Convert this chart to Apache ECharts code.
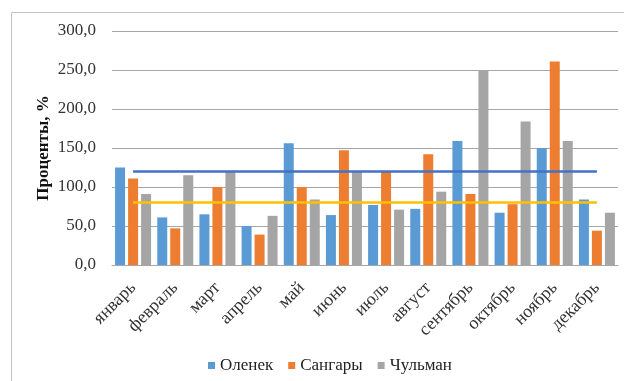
<!DOCTYPE html>
<html>
<head>
<meta charset="utf-8">
<script src="https://cdn.jsdelivr.net/npm/echarts@6/dist/echarts.min.js"></script>
<style>
  html, body { margin: 0; padding: 0; background: #fff; }
  #chart { width: 624px; height: 381px; }
</style>
</head>
<body>
<div id="chart"></div>
<script>
// Monthly discharge as a percentage of the norm, three gauging stations
const months = ['январь', 'февраль', 'март', 'апрель', 'май', 'июнь', 'июль', 'август', 'сентябрь', 'октябрь', 'ноябрь', 'декабрь'];
const seriesNames = ['Оленек', 'Сангары', 'Чульман'];
const olenek  = [125, 61, 65, 50, 156, 64, 77, 72, 159, 67, 150, 84];
const sangary = [111, 47, 100, 39, 100, 147, 120, 142, 91, 78, 261, 44];
const chulman = [91, 115, 120, 63, 84, 120, 71, 94, 250, 184, 159, 67];
// Reference levels drawn as horizontal lines across the months
const upperLevel = [120, 120, 120, 120, 120, 120, 120, 120, 120, 120, 120, 120];
const lowerLevel = [80, 80, 80, 80, 80, 80, 80, 80, 80, 80, 80, 80];
const yTicks = [0, 50, 100, 150, 200, 250, 300];

const serif = 'Liberation Serif';
const legendText = { fontFamily: serif, fontSize: 17, color: '#222' };
const chart = echarts.init(document.getElementById('chart'), null, { renderer: 'canvas' });

const barBase = { type: 'bar', barWidth: 10, barGap: '30%', z: 2 };

chart.setOption({
  animation: false,
  textStyle: { fontFamily: serif },
  graphic: [{
    type: 'rect',
    shape: { x: 11.5, y: 12.5, width: 700, height: 500 },
    style: { fill: 'none', stroke: '#C4C4C4', lineWidth: 1 },
    silent: true
  }],
  grid: { left: 112, right: 6, top: 31, bottom: 116, containLabel: false },
  legend: {
    data: seriesNames.map(n => ({ name: n, textStyle: legendText })),
    top: 352,
    left: 203,
    icon: 'rect',
    itemWidth: 7,
    itemHeight: 7,
    itemGap: 15,
    textStyle: legendText
  },
  xAxis: {
    type: 'category',
    data: months,
    axisLine: { lineStyle: { color: '#A6A6A6', width: 1 } },
    axisTick: { show: false },
    axisLabel: { rotate: 45, fontFamily: serif, fontSize: 18, color: '#333', margin: 20, interval: 0 }
  },
  yAxis: {
    type: 'value',
    min: yTicks[0],
    max: yTicks[yTicks.length - 1],
    interval: 50,
    name: 'Проценты, %',
    nameLocation: 'middle',
    nameGap: 60,
    nameMoveOverlap: false,
    nameRotate: 90,
    nameTextStyle: { fontFamily: serif, fontSize: 17, fontWeight: 'bold', color: '#111' },
    axisLine: { show: false },
    axisTick: { show: false },
    splitLine: { lineStyle: { color: '#A6A6A6', width: 1 } },
    axisLabel: {
      fontFamily: serif, fontSize: 17, color: '#333', margin: 16,
      formatter: v => v.toFixed(1).replace('.', ',')
    }
  },
  series: [
    Object.assign({ name: seriesNames[0], data: olenek, itemStyle: { color: '#5B9BD5' } }, barBase),
    Object.assign({ name: seriesNames[1], data: sangary, itemStyle: { color: '#ED7D31' } }, barBase),
    Object.assign({ name: seriesNames[2], data: chulman, itemStyle: { color: '#A5A5A5' } }, barBase),
    { name: 'upper', type: 'line', data: upperLevel, symbol: 'none', z: 5,
      lineStyle: { color: '#4472C4', width: 2.5 } },
    { name: 'lower', type: 'line', data: lowerLevel, symbol: 'none', z: 5,
      lineStyle: { color: '#FFC000', width: 2.5 } }
  ]
});
</script>
</body>
</html>
